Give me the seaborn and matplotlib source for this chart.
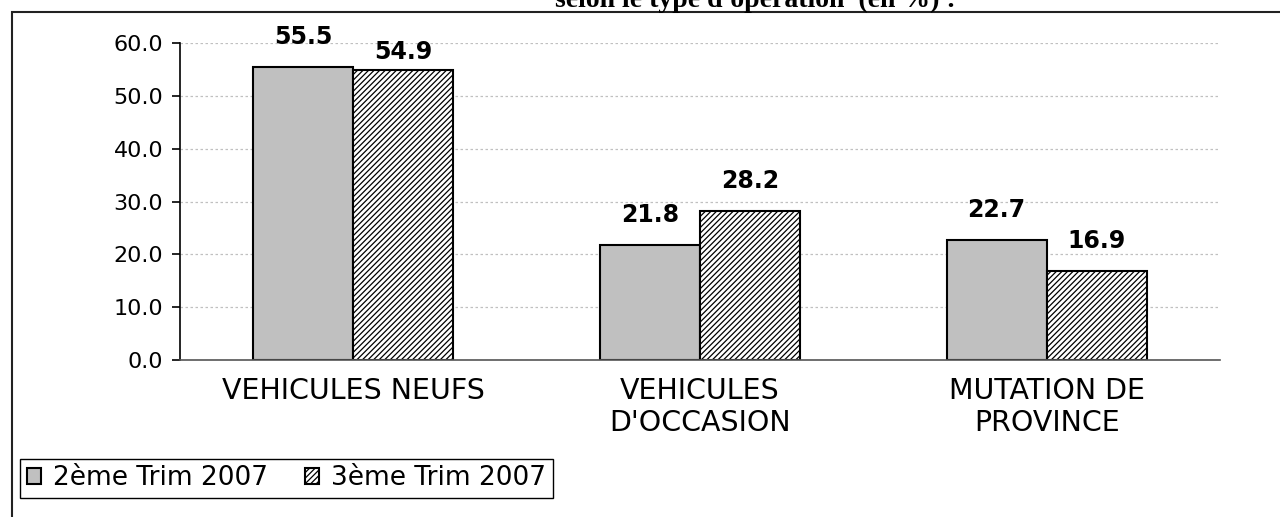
#!/usr/bin/env python3

import numpy as np
import pandas as pd

import matplotlib

matplotlib.use("Agg")
import matplotlib.pyplot as plt
import seaborn as sns
from matplotlib.patches import Rectangle
from matplotlib.ticker import FormatStrFormatter

operations = ["VEHICULES NEUFS", "VEHICULES\nD'OCCASION", "MUTATION DE\nPROVINCE"]
periodes = ["2ème Trim 2007", "3ème Trim 2007"]
trim2 = [55.5, 21.8, 22.7]
trim3 = [54.9, 28.2, 16.9]
yticks = [0, 10, 20, 30, 40, 50, 60]

df = pd.DataFrame(
    {
        "operation": operations * 2,
        "periode": [periodes[0]] * 3 + [periodes[1]] * 3,
        "pct": trim2 + trim3,
    }
)

sns.set_theme(style="white")
plt.rcParams["font.family"] = ["DejaVu Sans"]
plt.rcParams["hatch.linewidth"] = 0.9
plt.rcParams["text.color"] = "black"

W, H = 1280, 517
fig = plt.figure(figsize=(W / 100, H / 100), dpi=100)
ax = fig.add_axes([180 / W, 157 / H, 1040 / W, 317 / H])

sns.barplot(
    data=df,
    x="operation",
    y="pct",
    hue="periode",
    palette=["#C0C0C0", "white"],
    edgecolor="black",
    linewidth=1.5,
    width=0.577,
    legend=False,
    ax=ax,
)
for patch in ax.containers[1].patches:
    patch.set_hatch("//////")

# value labels (nudge down when it would collide with the neighbour label)
vals = [trim2, trim3]
for k, cont in enumerate(ax.containers):
    for i, patch in enumerate(cont.patches):
        v = vals[k][i]
        other = vals[1 - k][i]
        pad = 4 if (v < other and other - v < 3) else 13
        ax.annotate(
            f"{v:.1f}",
            (patch.get_x() + patch.get_width() / 2, patch.get_height()),
            xytext=(0, pad),
            textcoords="offset points",
            ha="center",
            va="bottom",
            fontsize=17,
            fontweight="bold",
            color="black",
        )

ax.set_xlim(-0.5, 2.5)
ax.set_ylim(0, 60)
ax.set_yticks(yticks)
ax.yaxis.set_major_formatter(FormatStrFormatter("%.1f"))
ax.set_xticks([-0.5, 0.5, 1.5, 2.5], minor=True)
ax.tick_params(axis="x", which="major", length=0, pad=12, labelsize=20.5, colors="black")
ax.tick_params(axis="x", which="minor", length=7, width=1.2, color="#333333", direction="out")
ax.tick_params(axis="y", length=6, width=1.2, direction="out", labelsize=16, pad=6, colors="black", left=True)
ax.set_xlabel("")
ax.set_ylabel("")

ax.grid(axis="y", color="#C0C0C0", linestyle=(0, (2, 2)), linewidth=0.9)
ax.set_axisbelow(True)
for side in ["top", "right"]:
    ax.spines[side].set_visible(False)
ax.spines["left"].set_color("black")
ax.spines["left"].set_linewidth(1.2)
ax.spines["bottom"].set_color("#555555")
ax.spines["bottom"].set_linewidth(1.2)

ax.legend(
    handles=ax.containers,
    labels=periodes,
    loc="lower left",
    bbox_to_anchor=(20 / W, 19 / H),
    bbox_transform=fig.transFigure,
    ncol=2,
    fontsize=19,
    labelcolor="black",
    frameon=True,
    fancybox=False,
    edgecolor="black",
    framealpha=1,
    handlelength=0.55,
    handleheight=0.55,
    handletextpad=0.45,
    columnspacing=1.4,
    borderpad=0.25,
    borderaxespad=0,
)

# outer chart frame and the cut-off title above it
fig.patches.append(
    Rectangle(
        (12 / W, -0.1),
        1.2,
        1.1 - 12 / H,
        transform=fig.transFigure,
        fill=False,
        edgecolor="#222222",
        linewidth=1.5,
    )
)
fig.text(
    755 / W,
    1 - 7 / H,
    "selon le type d'opération  (en %) :",
    ha="center",
    va="baseline",
    family="Liberation Serif",
    fontweight="bold",
    fontsize=20,
)

fig.savefig("out.png", dpi=100)
